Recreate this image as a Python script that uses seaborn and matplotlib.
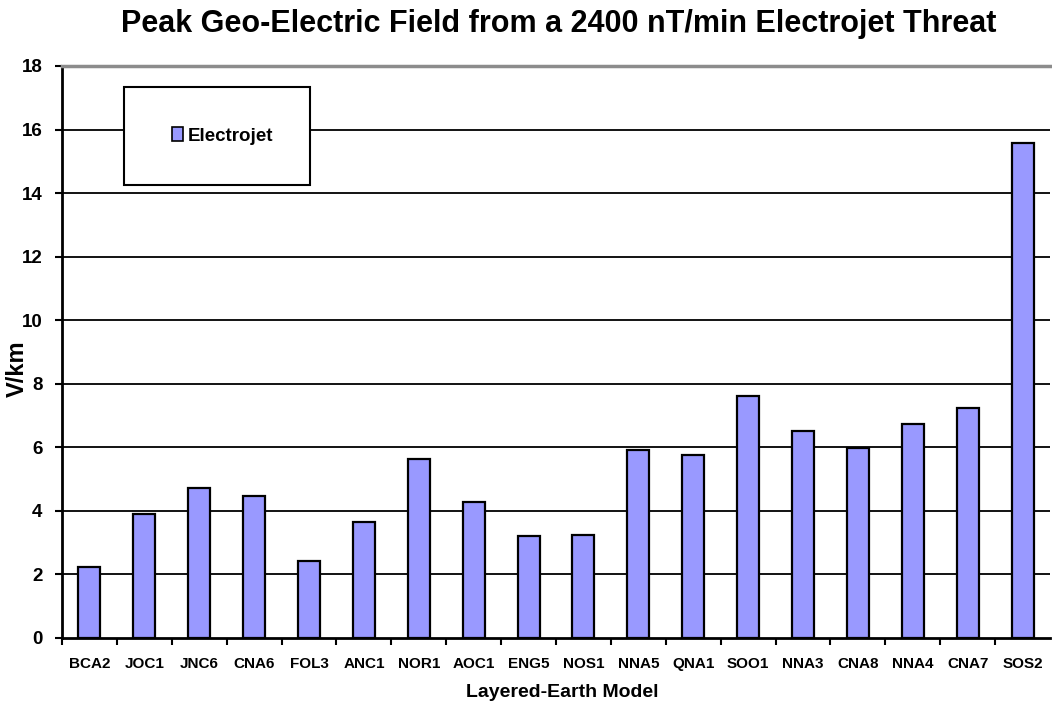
import matplotlib
matplotlib.use("Agg")
import matplotlib.pyplot as plt
import seaborn as sns
import pandas as pd
import numpy as np
from matplotlib.patches import Rectangle, Patch

models = ["BCA2", "JOC1", "JNC6", "CNA6", "FOL3", "ANC1", "NOR1", "AOC1", "ENG5",
          "NOS1", "NNA5", "QNA1", "SOO1", "NNA3", "CNA8", "NNA4", "CNA7", "SOS2"]
electrojet = [2.23, 3.90, 4.72, 4.48, 2.42, 3.65, 5.63, 4.27, 3.20,
              3.24, 5.92, 5.77, 7.63, 6.52, 5.98, 6.74, 7.25, 15.57]
yticks = [0, 2, 4, 6, 8, 10, 12, 14, 16, 18]

sns.set_theme(style="white")
plt.rcParams['font.family'] = ['Liberation Sans', 'DejaVu Sans']
plt.rcParams.update({"text.color": "black", "axes.labelcolor": "black",
                     "xtick.color": "black", "ytick.color": "black"})

df = pd.DataFrame({"model": models, "value": electrojet})

fig = plt.figure(figsize=(10.52, 7.02), dpi=100)
ax = fig.add_axes([62/1052, 1 - 638/702, (1050 - 62)/1052, (638 - 66)/702])

sns.barplot(data=df, x="model", y="value", color="#9999FF", saturation=1,
            edgecolor="black", linewidth=1.6, width=0.4, ax=ax, zorder=3)

ax.set_ylim(0, 18)
ax.set_xlim(-0.5, len(models) - 0.5)
ax.set_yticks(yticks)
ax.set_yticklabels([str(t) for t in yticks], fontsize=13.5, fontweight="bold")
for t in yticks[1:-1]:
    ax.axhline(t, color="black", linewidth=1.3, zorder=1)

ax.set_xticks(range(len(models)))
ax.set_xticklabels(models, fontsize=11, fontweight="bold")
ax.tick_params(axis="x", which="major", length=0, pad=14)
ax.set_xticks(np.arange(len(models)) - 0.5, minor=True)
ax.tick_params(axis="x", which="minor", length=5, width=1.5, color="black", direction="out", bottom=True)
ax.tick_params(axis="y", length=5, width=1.5, color="black", direction="out", left=True, pad=9)

for s in ["left", "bottom"]:
    ax.spines[s].set_color("black")
    ax.spines[s].set_linewidth(2)
ax.spines["top"].set_color("#8c8c8c")
ax.spines["top"].set_linewidth(2.5)
ax.spines["right"].set_visible(False)

ax.set_xlabel("Layered-Earth Model", fontsize=14, fontweight="bold")
ax.xaxis.set_label_coords((562 - 62) / 988, -(684 - 638) / 572)
ax.set_ylabel("V/km", fontsize=17, fontweight="bold")
ax.yaxis.set_label_coords((29 - 62) / 988, (638 - 369) / 572)

fig.text(559 / 1052, 1 - 24 / 702,
         "Peak Geo-Electric Field from a 2400 nT/min Electrojet Threat",
         fontsize=22, fontweight="bold", ha="center", va="center")

# legend box
x0 = (124 - 62) / 988
x1 = (310 - 62) / 988
y1 = (638 - 87) / 572
y0 = (638 - 185) / 572
ax.add_patch(Rectangle((x0, y0), x1 - x0, y1 - y0, transform=ax.transAxes,
                       facecolor="white", edgecolor="black", linewidth=1.5, zorder=4))
handle = Patch(facecolor="#9999FF", edgecolor="black", linewidth=1.2)
leg = ax.legend([handle], ["Electrojet"], loc="center",
                bbox_to_anchor=((223 - 62) / 988, (y0 + y1) / 2), bbox_transform=ax.transAxes,
                frameon=False, handlelength=0.55, handleheight=0.75, handletextpad=0.3,
                prop={"weight": "bold", "size": 13.5})
leg.set_zorder(5)

fig.savefig("out.png", dpi=100)
